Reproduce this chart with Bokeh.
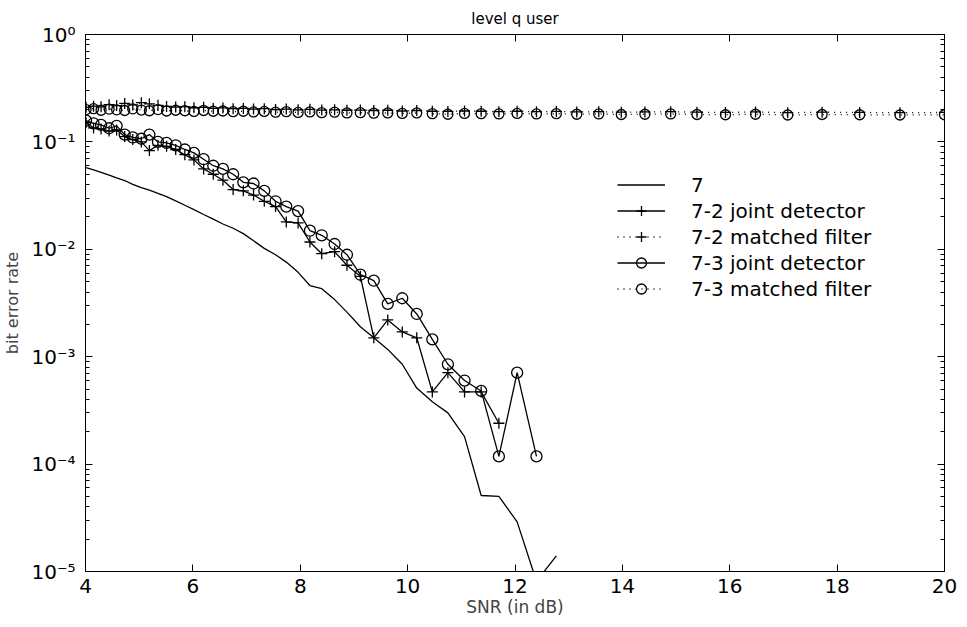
from bokeh.plotting import figure
from bokeh.models import (LinearAxis, LogAxis, Legend, LegendItem, FixedTicker,
                          CustomJSTickFormatter, CustomLabelingPolicy, Range1d)
from bokeh.embed import file_html
from bokeh.resources import INLINE

# ---------------- data ----------------
SNR = [4.01, 4.15, 4.29, 4.44, 4.58, 4.73, 4.88, 5.04, 5.19, 5.35,
       5.51, 5.68, 5.85, 6.02, 6.20, 6.38, 6.56, 6.75, 6.94, 7.13,
       7.33, 7.54, 7.74, 7.96, 8.18, 8.40, 8.64, 8.87, 9.12, 9.37,
       9.63, 9.90, 10.17, 10.46, 10.75, 11.06, 11.37, 11.70, 12.04, 12.40,
       12.77, 13.15, 13.56, 13.98, 14.42, 14.90, 15.39, 15.92, 16.48, 17.08,
       17.72, 18.42, 19.17, 20.00]

BER_7 = [0.0575, 0.0550, 0.0521, 0.0490, 0.0462, 0.0437, 0.0403, 0.0376, 0.0355, 0.0331,
         0.0309, 0.0282, 0.0257, 0.0234, 0.0211, 0.0191, 0.0172, 0.0157, 0.0140, 0.0120,
         0.0102, 0.0089, 0.0076, 0.0061, 0.0046, 0.0043, 0.0034, 0.0026, 0.0019, 0.0015,
         0.00117, 0.00085, 0.00051, 0.00038, 0.00030, 0.00018, 0.000051, 0.000050, 0.000029, 0.0000081,
         0.000014]

BER_72_JOINT = [0.151, 0.135, 0.132, 0.126, 0.129, 0.112, 0.105, 0.100, 0.083, 0.093,
                0.091, 0.085, 0.076, 0.068, 0.056, 0.050, 0.044, 0.036, 0.035, 0.032,
                0.028, 0.025, 0.018, 0.0176, 0.0117, 0.0091, 0.0095, 0.0071, 0.0056, 0.0015,
                0.0022, 0.0017, 0.0015, 0.00047, 0.00071, 0.00047, 0.00047, 0.00024]

BER_72_MATCHED = [0.210, 0.215, 0.212, 0.222, 0.218, 0.228, 0.221, 0.232, 0.226, 0.219,
                  0.214, 0.211, 0.213, 0.208, 0.210, 0.205, 0.207, 0.204, 0.205, 0.202,
                  0.204, 0.200, 0.202, 0.199, 0.201, 0.198, 0.199, 0.197, 0.198, 0.196,
                  0.197, 0.194, 0.196, 0.193, 0.192, 0.194, 0.193, 0.191, 0.193, 0.191,
                  0.192, 0.190, 0.191, 0.189, 0.190, 0.191, 0.189, 0.188, 0.190, 0.187,
                  0.189, 0.188, 0.187, 0.188]

BER_73_JOINT = [0.158, 0.149, 0.144, 0.134, 0.141, 0.117, 0.110, 0.107, 0.117, 0.100,
                0.098, 0.093, 0.085, 0.079, 0.069, 0.060, 0.056, 0.050, 0.042, 0.041,
                0.035, 0.028, 0.025, 0.0227, 0.0149, 0.0135, 0.0112, 0.0089, 0.0058, 0.0051,
                0.0031, 0.0035, 0.0025, 0.00145, 0.00085, 0.00060, 0.00048, 0.000118, 0.00071, 0.000118]

BER_73_MATCHED = [0.200, 0.204, 0.197, 0.202, 0.199, 0.196, 0.203, 0.198, 0.195, 0.200,
                  0.194, 0.197, 0.195, 0.192, 0.196, 0.193, 0.194, 0.191, 0.193, 0.190,
                  0.192, 0.189, 0.191, 0.188, 0.190, 0.187, 0.189, 0.186, 0.187, 0.185,
                  0.186, 0.184, 0.186, 0.183, 0.181, 0.184, 0.183, 0.182, 0.184, 0.182,
                  0.183, 0.181, 0.182, 0.180, 0.181, 0.182, 0.180, 0.179, 0.181, 0.178,
                  0.180, 0.179, 0.178, 0.179]

X_TICKS = [4, 6, 8, 10, 12, 14, 16, 18, 20]
Y_TICKS = [1e-5, 1e-4, 1e-3, 1e-2, 1e-1, 1.0]
Y_TICK_LABELS = ["10\u207b\u2075", "10\u207b\u2074", "10\u207b\u00b3",
                 "10\u207b\u00b2", "10\u207b\u00b9", "10\u2070"]
LEGEND_LABELS = ["7", "7-2 joint detector", "7-2 matched filter",
                 "7-3 joint detector", "7-3 matched filter"]
TITLE = "level q user"
X_LABEL = "SNR (in dB)"
Y_LABEL = "bit error rate"

# ---------------- styling ----------------
FONT = "DejaVu Sans"
INK = "black"
LW = 1.3
Y_MINOR = [m * t for t in Y_TICKS[:-1] for m in range(2, 10)]

p = figure(width=959, height=619, y_axis_type="log",
           x_range=Range1d(4, 20), y_range=Range1d(1e-5, 1),
           output_backend="svg", toolbar_location=None, title=TITLE,
           min_border_left=77, min_border_right=15,
           min_border_top=34, min_border_bottom=47)

p.title.align = "center"
p.title.text_font = FONT
p.title.text_font_size = "15px"
p.title.text_font_style = "normal"
p.title.text_color = INK
p.title.standoff = 3

p.grid.visible = False
p.outline_line_color = INK
p.outline_line_width = 1
p.background_fill_color = "white"
p.border_fill_color = "white"

ytick_fmt = CustomJSTickFormatter(args=dict(tv=Y_TICKS, tl=Y_TICK_LABELS), code="""
let best = 0, bd = Infinity;
for (let i = 0; i < tv.length; i++) {
  const d = Math.abs(Math.log10(tick) - Math.log10(tv[i]));
  if (d < bd) { bd = d; best = i; }
}
return tl[best];
""")

no_labels = CustomLabelingPolicy(code="""
if (typeof indices.clear === "function") { indices.clear(); return indices; }
for (let i = 0; i < indices.size; i++) { indices.unset(i); }
return indices;
""")

def style_axis(ax, show_labels):
    ax.axis_line_color = INK
    ax.axis_line_width = 1
    ax.major_tick_line_color = INK
    ax.minor_tick_line_color = INK
    ax.major_tick_in = 7
    ax.major_tick_out = 0
    ax.minor_tick_in = 4
    ax.minor_tick_out = 0
    ax.major_label_text_font = FONT
    ax.major_label_text_color = INK
    if show_labels:
        ax.major_label_text_font_size = "20px"
    else:
        ax.major_label_text_font_size = "2px"
        ax.major_label_standoff = 0
        ax.major_label_policy = no_labels

xax = p.below[0]
style_axis(xax, True)
xax.ticker = FixedTicker(ticks=X_TICKS)
xax.minor_tick_in = 0
xax.major_label_standoff = 7
xax.axis_label = X_LABEL
xax.axis_label_text_font = FONT
xax.axis_label_text_font_size = "17px"
xax.axis_label_text_font_style = "normal"
xax.axis_label_standoff = 1

yax = p.left[0]
style_axis(yax, True)
yax.ticker = FixedTicker(ticks=Y_TICKS, minor_ticks=Y_MINOR)
yax.formatter = ytick_fmt
yax.major_label_standoff = 10
yax.axis_label = Y_LABEL
yax.axis_label_text_font = FONT
yax.axis_label_text_font_size = "16px"
yax.axis_label_text_font_style = "normal"
yax.axis_label_standoff = 6

top = LinearAxis(ticker=FixedTicker(ticks=X_TICKS))
style_axis(top, False)
top.minor_tick_in = 0
p.add_layout(top, "above")

right = LogAxis(ticker=FixedTicker(ticks=Y_TICKS, minor_ticks=Y_MINOR))
style_axis(right, False)
p.add_layout(right, "right")

# ---------------- data glyphs ----------------
n7 = len(BER_7)
n72 = len(BER_72_JOINT)
n73 = len(BER_73_JOINT)

r7 = p.line(SNR[:n7], BER_7, line_color=INK, line_width=LW)

r72j_l = p.line(SNR[:n72], BER_72_JOINT, line_color=INK, line_width=LW)
r72j_m = p.scatter(SNR[:n72], BER_72_JOINT, marker="cross", size=11,
                   line_color=INK, line_width=LW)

r72m_l = p.line(SNR, BER_72_MATCHED, line_color=INK, line_width=LW, line_dash="1 5")
r72m_m = p.scatter(SNR, BER_72_MATCHED, marker="cross", size=11,
                   line_color=INK, line_width=LW)

r73j_l = p.line(SNR[:n73], BER_73_JOINT, line_color=INK, line_width=LW)
r73j_m = p.scatter(SNR[:n73], BER_73_JOINT, marker="circle", size=11,
                   fill_color=None, line_color=INK, line_width=LW)

r73m_l = p.line(SNR, BER_73_MATCHED, line_color=INK, line_width=LW, line_dash="1 5")
r73m_m = p.scatter(SNR, BER_73_MATCHED, marker="circle", size=10,
                   fill_color=None, line_color=INK, line_width=LW)

legend = Legend(items=[
    LegendItem(label=LEGEND_LABELS[0], renderers=[r7]),
    LegendItem(label=LEGEND_LABELS[1], renderers=[r72j_l, r72j_m]),
    LegendItem(label=LEGEND_LABELS[2], renderers=[r72m_l, r72m_m]),
    LegendItem(label=LEGEND_LABELS[3], renderers=[r73j_l, r73j_m]),
    LegendItem(label=LEGEND_LABELS[4], renderers=[r73m_l, r73m_m]),
], location=(532, 270), glyph_width=48, glyph_height=25, label_height=25,
   spacing=1, label_standoff=26, padding=0, margin=0,
   border_line_alpha=0, background_fill_alpha=0,
   label_text_font=FONT, label_text_font_size="20px", label_text_color=INK)
p.add_layout(legend)

open("out.html", "w").write(file_html(p, INLINE))
